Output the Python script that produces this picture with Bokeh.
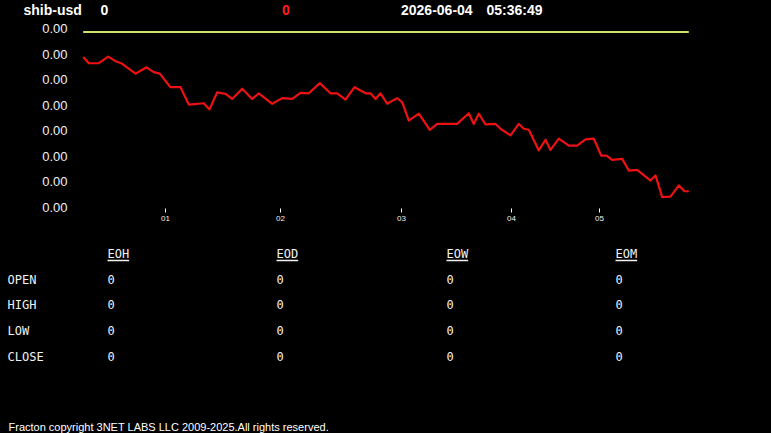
from bokeh.plotting import figure
from bokeh.models import Range1d, FixedTicker, PrintfTickFormatter, ColumnDataSource, LinearAxis
from bokeh.embed import file_html
from bokeh.resources import INLINE
from bokeh.core.properties import value
import numpy as np

# ---------------- data ----------------
symbol = "shib-usd"
last_price = "0"
change = "0"
date_str = "2026-06-04"
time_str = "05:36:49"

# sample position along the intraday axis and price (in 1e-8 USD)
sample_x = [0.7, 6.3, 16.3, 25.7, 33, 38.7, 53, 64, 71.3, 77.3,
            88, 98, 106.3, 121.3, 127, 134.7, 143, 149.7, 159.7, 169.7,
            176.3, 189.7, 199.7, 209.7, 218, 226.3, 237.3, 248, 254.7, 263,
            272, 283, 288, 293, 298, 304.7, 314.7, 319.7, 326.3, 336.3,
            347.3, 354.7, 374.7, 386.3, 391.3, 396.3, 403, 413, 418, 428,
            436.3, 441.3, 446.3, 456.3, 463, 468, 476.3, 486.3, 494.7, 503,
            511.3, 518.7, 524, 529.7, 539.7, 546.3, 554.7, 568, 573, 579.7,
            588, 596.3, 602, 606.3]
price_e8 = [1388.9, 1386.5, 1386.5, 1389.1, 1387.3, 1386.5, 1382.4, 1384.9, 1383.0, 1382.4,
            1377.1, 1377.1, 1370.3, 1370.8, 1368.4, 1375.1, 1374.5, 1372.5, 1376.5, 1372.5,
            1374.7, 1370.6, 1372.8, 1372.5, 1374.9, 1374.7, 1378.7, 1374.7, 1374.7, 1372.2,
            1377.1, 1374.7, 1374.7, 1372.5, 1374.7, 1370.6, 1372.8, 1371.2, 1364.0, 1366.7,
            1360.4, 1362.7, 1362.7, 1366.9, 1362.7, 1366.7, 1362.5, 1362.7, 1360.8, 1358.2,
            1362.7, 1360.8, 1360.4, 1352.3, 1356.5, 1352.5, 1356.9, 1354.2, 1354.2, 1356.6,
            1356.9, 1350.3, 1350.3, 1348.6, 1349.0, 1344.4, 1344.7, 1340.5, 1342.5, 1334.0,
            1334.2, 1338.6, 1336.3, 1336.3]
ref_x = [0.7, 606.3]
ref_e8 = [1398.7, 1398.7]

y_tick_e8 = [1330, 1340, 1350, 1360, 1370, 1380, 1390, 1400]
x_tick_pos = [83, 198, 319, 429, 517]
x_tick_labels = ["01", "02", "03", "04", "05"]

table_cols = ["EOH", "EOD", "EOW", "EOM"]
table_rows = ["OPEN", "HIGH", "LOW", "CLOSE"]
table_vals = [["0", "0", "0", "0"],
              ["0", "0", "0", "0"],
              ["0", "0", "0", "0"],
              ["0", "0", "0", "0"]]
footer = "Fracton copyright 3NET LABS LLC 2009-2025.All rights reserved."

# ---------------- page figure (frame = whole canvas, page-pixel ranges) ----------------
W, H = 771, 433
CH_L, CH_B = 82, 208          # chart left edge / x-axis line (page px)
Y_TOP_TICK_PX, PX_PER_STEP = 28.3, 2.55   # top tick position, px per 1e-8
scale = 1e-8

p = figure(width=W, height=H, x_range=Range1d(0, W), y_range=Range1d(H, 0),
           x_axis_type=None, y_axis_type=None, toolbar_location=None,
           output_backend="svg", min_border=0)
p.background_fill_color = "black"
p.border_fill_color = "black"
p.outline_line_color = None
p.styles = {"background-color": "black"}

# chart scales
t_start = -CH_L
price_bottom = 1400 - (H - Y_TOP_TICK_PX) / PX_PER_STEP
price_top = 1400 + Y_TOP_TICK_PX / PX_PER_STEP
p.extra_x_ranges = {"t": Range1d(t_start, t_start + W)}
p.extra_y_ranges = {"price": Range1d(price_bottom * scale, price_top * scale)}

src = ColumnDataSource(dict(x=sample_x, y=np.array(price_e8) * scale))
p.line(x=ref_x, y=np.array(ref_e8) * scale, x_range_name="t", y_range_name="price",
       line_color="#d2e06e", line_width=2)
p.line("x", "y", source=src, x_range_name="t", y_range_name="price",
       line_color="#ee1111", line_width=2.2, line_join="round")

ya = LinearAxis(y_range_name="price", fixed_location=CH_L,
                ticker=FixedTicker(ticks=list(np.array(y_tick_e8) * scale)),
                formatter=PrintfTickFormatter(format="%.2f"))
ya.axis_line_color = None
ya.major_tick_line_color = None
ya.minor_tick_line_color = None
ya.major_tick_out = 0
ya.major_tick_in = 0
ya.major_label_standoff = 15
ya.major_label_text_color = "#f0f0f0"
ya.major_label_text_font = "Liberation Sans"
ya.major_label_text_font_size = "13px"
p.add_layout(ya, "left")

xa = LinearAxis(x_range_name="t", fixed_location=CH_B, ticker=FixedTicker(ticks=x_tick_pos))
xa.major_label_overrides = {pos: lab for pos, lab in zip(x_tick_pos, x_tick_labels)}
xa.axis_line_color = None
xa.minor_tick_line_color = None
xa.major_tick_line_color = "white"
xa.major_tick_in = 0
xa.major_tick_out = 4
xa.major_label_standoff = 3
xa.major_label_text_color = "#f0f0f0"
xa.major_label_text_font = "Liberation Sans"
xa.major_label_text_font_size = "8px"
p.add_layout(xa, "below")

SANS = value("Liberation Sans")
MONO = value("DejaVu Sans Mono")

# header
p.text(x=[23, 100, 400.5, 486], y=[9.5] * 4, text=[symbol, last_price, date_str, time_str],
       text_font=SANS, text_font_style="bold", text_font_size="14px",
       text_color="white", text_baseline="middle", text_align="left")
p.text(x=[281.5], y=[9.5], text=[change], text_font=SANS, text_font_style="bold",
       text_font_size="14px", text_color="#ff1a1a", text_baseline="middle", text_align="left")

# table
col_x = [107, 276, 446, 615]
row_y = [279, 304, 330, 356]
char_w = 7.22
p.text(x=col_x, y=[253] * 4, text=table_cols, text_font=MONO, text_font_size="12px",
       text_color="#f2f2f2", text_baseline="middle", text_align="left")
p.segment(x0=col_x, y0=[260] * 4, x1=[c + len(t) * char_w for c, t in zip(col_x, table_cols)],
          y1=[260] * 4, line_color="#f2f2f2", line_width=1.5)
p.text(x=[7] * 4, y=row_y, text=table_rows, text_font=MONO, text_font_size="12px",
       text_color="#f2f2f2", text_baseline="middle", text_align="left")
vx, vy, vt = [], [], []
for r, ry in enumerate(row_y):
    for c, cx in enumerate(col_x):
        vx.append(cx); vy.append(ry); vt.append(table_vals[r][c])
p.text(x=vx, y=vy, text=vt, text_font=MONO, text_font_size="12px",
       text_color="#f2f2f2", text_baseline="middle", text_align="left")

# footer
p.text(x=[8], y=[426], text=[footer], text_font=SANS, text_font_size="11px",
       text_color="white", text_baseline="middle", text_align="left")

open("out.html", "w").write(file_html(p, INLINE))
